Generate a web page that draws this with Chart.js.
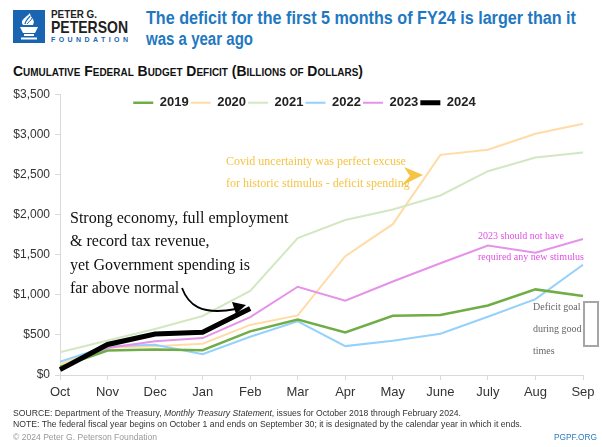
<!DOCTYPE html>
<html>
<head>
<meta charset="utf-8">
<script src="https://cdn.jsdelivr.net/npm/chart.js@4/dist/chart.umd.min.js"></script>
<style>
  html, body { margin: 0; padding: 0; background: #fff; }
  body { width: 602px; height: 447px; position: relative; overflow: hidden; font-family: "Liberation Sans", Arial, sans-serif; }
  .abs { position: absolute; white-space: nowrap; }
  #chartBox { left: 0; top: 82px; width: 602px; height: 322px; }
  .note { font-family: "Liberation Serif", "Times New Roman", serif; }
  #strong { left: 70px; top: 206px; font-size: 16px; line-height: 23.3px; color: #111; }
  #covid { left: 226px; top: 150px; font-size: 12px; line-height: 22px; color: #f6c443; }
  #pink { left: 478px; top: 225px; font-size: 10px; line-height: 21px; color: #e04fe0; }
  #goal { left: 533px; top: 296px; font-size: 10px; line-height: 22px; color: #666; }
</style>
</head>
<body>

<svg class="abs" style="left:0;top:0" width="602" height="90">
  <rect x="13" y="10" width="32" height="33" fill="#1a65b2"/>
  <path d="M20 27 h18 l-3 6 h-12 z" fill="#fff"/>
  <rect x="24" y="34" width="10" height="2" fill="#fff"/>
  <rect x="21" y="37.5" width="16" height="2" fill="#fff"/>
  <path d="M23 25 C19 20 27 17 30 13 C30 18 36 19 33 25 z" fill="#fff"/>
  <path d="M25 24 C25 21 28 19 30 16" stroke="#1a65b2" stroke-width="1.3" fill="none"/>
  <path d="M27 24 C28 22 31 21 32 18" stroke="#1a65b2" stroke-width="1" fill="none"/>
  <text x="51" y="18" textLength="46" lengthAdjust="spacingAndGlyphs" font-family="Liberation Sans, sans-serif" font-weight="bold" font-size="11" fill="#231f20">PETER G.</text>
  <text x="51" y="33" textLength="77" lengthAdjust="spacingAndGlyphs" font-family="Liberation Sans, sans-serif" font-weight="bold" font-size="17" fill="#231f20">PETERSON</text>
  <text x="51" y="42" textLength="77" lengthAdjust="spacing" font-family="Liberation Sans, sans-serif" font-weight="bold" font-size="7" fill="#1a65b2">FOUNDATION</text>
  <text x="146" y="24" textLength="430" lengthAdjust="spacingAndGlyphs" font-family="Liberation Sans, sans-serif" font-weight="bold" font-size="18" fill="#1f78c1">The deficit for the first 5 months of FY24 is larger than it</text>
  <text x="146" y="45" textLength="107" lengthAdjust="spacingAndGlyphs" font-family="Liberation Sans, sans-serif" font-weight="bold" font-size="18" fill="#1f78c1">was a year ago</text>
  <text x="13" y="76" textLength="350" lengthAdjust="spacingAndGlyphs" font-family="Liberation Sans, sans-serif" font-weight="bold" font-size="14" fill="#111" style="font-variant: small-caps">Cumulative Federal Budget Deficit (Billions of Dollars)</text>
</svg>

<div id="chartBox" class="abs"><canvas id="deficitChart"></canvas></div>

<div id="strong" class="abs note">Strong economy, full employment<br>&amp; record tax revenue,<br>yet Government spending is<br>far above normal</div>
<div id="covid" class="abs note">Covid uncertainty was perfect excuse<br>for historic stimulus - deficit spending</div>
<div id="pink" class="abs note">2023 should not have<br>required any new stimulus</div>
<div id="goal" class="abs note">Deficit goal<br>during good<br>times</div>

<svg class="abs" style="left:0;top:0;pointer-events:none" width="602" height="447">
  <path d="M182 288 C188 304 200 316 236 309" stroke="#000" stroke-width="1.8" fill="none"/>
  <polygon points="246,305 232,302 236,314" fill="#000"/>
  <polygon points="423,175 404,167 410,176 401,186" fill="#f6c443"/>
  <rect x="584" y="302" width="14" height="44" fill="none" stroke="#a6a6a6" stroke-width="2"/>
  <g font-family="Liberation Sans, sans-serif" font-size="9">
    <text x="13" y="416" textLength="448" lengthAdjust="spacingAndGlyphs" fill="#333">SOURCE: Department of the Treasury, <tspan font-style="italic">Monthly Treasury Statement</tspan>, issues for October 2018 through February 2024.</text>
    <text x="13" y="427" textLength="509" lengthAdjust="spacingAndGlyphs" fill="#333">NOTE: The federal fiscal year begins on October 1 and ends on September 30; it is designated by the calendar year in which it ends.</text>
    <text x="13" y="440" textLength="144" lengthAdjust="spacingAndGlyphs" fill="#999">© 2024 Peter G. Peterson Foundation</text>
    <text x="554" y="440" textLength="43" lengthAdjust="spacingAndGlyphs" fill="#2b7dc4">PGPF.ORG</text>
  </g>
</svg>

<script>
var months = ["Oct", "Nov", "Dec", "Jan", "Feb", "Mar", "Apr", "May", "June", "July", "Aug", "Sep"];
var fy2019 = [100, 305, 319, 310, 544, 691, 531, 738, 747, 867, 1067, 984];
var fy2020 = [134, 343, 357, 389, 624, 743, 1481, 1880, 2744, 2807, 3007, 3132];
var fy2021 = [284, 429, 573, 736, 1047, 1706, 1932, 2064, 2238, 2540, 2711, 2772];
var fy2022 = [165, 357, 378, 259, 476, 668, 360, 426, 515, 726, 946, 1375];
var fy2023 = [88, 336, 421, 460, 722, 1100, 925, 1165, 1393, 1613, 1524, 1695];
var fy2024 = [67, 381, 510, 532, 828];

// legend drawn as one row inside the plot, a bit left of center like the original
var legendInPlot = {
    id: 'legendInPlot',
    beforeLayout: function(chart){
        chart.legend.isHorizontal = function(){ return true; };
    },
    afterLayout: function(chart){
        var area = chart.chartArea, lg = chart.legend;
        lg.left = area.left - 17;
        lg.right = area.right - 17;
        lg.top = area.top;
        lg.bottom = area.top + lg.height;
    }
};

var deficitData = {
    labels: months,
    datasets: [
        { label: "2019", data: fy2019, borderColor: "#70ad47", borderWidth: 2.5, order: 1 },
        { label: "2020", data: fy2020, borderColor: "#ffdca6", borderWidth: 2, order: 5 },
        { label: "2021", data: fy2021, borderColor: "#d3e8c2", borderWidth: 2, order: 4 },
        { label: "2022", data: fy2022, borderColor: "#94d1fb", borderWidth: 2, order: 3 },
        { label: "2023", data: fy2023, borderColor: "#e592e8", borderWidth: 2, order: 2 },
        { label: "2024", data: fy2024, borderColor: "#000000", borderWidth: 5, order: 0 }
    ]
};
deficitData.datasets.forEach(function(ds){
    ds.backgroundColor = ds.borderColor;
    ds.pointRadius = 0;
    ds.tension = 0;
    ds.fill = false;
});

var ctx = document.getElementById("deficitChart").getContext("2d");
new Chart(ctx, {
    type: 'line',
    data: deficitData,
    plugins: [legendInPlot],
    options: {
        responsive: true,
        maintainAspectRatio: false,
        animation: false,
        layout: { padding: { left: 10, right: 19, top: 10, bottom: 0 } },
        plugins: {
            tooltip: { enabled: false },
            legend: {
                position: 'chartArea',
                align: 'center',
                labels: {
                    usePointStyle: true,
                    pointStyle: 'line',
                    pointStyleWidth: 20,
                    padding: 2,
                    color: '#222',
                    font: { family: 'Liberation Sans', size: 13, weight: 'bold' },
                    sort: function(a, b){ return a.datasetIndex - b.datasetIndex; }
                }
            }
        },
        scales: {
            x: {
                offset: false,
                grid: { drawOnChartArea: false, tickLength: 5, color: '#d9d9d9' },
                border: { color: '#d9d9d9' },
                ticks: { color: '#333', padding: 5, maxRotation: 0, autoSkip: false, font: { family: 'Liberation Sans', size: 13 } },
                afterFit: function(scale){ scale.height = 29; }
            },
            y: {
                min: 0,
                max: 3500,
                grid: { drawOnChartArea: false, tickLength: 5, color: '#d9d9d9' },
                border: { color: '#d9d9d9' },
                ticks: {
                    stepSize: 500,
                    color: '#333',
                    padding: 5,
                    font: { family: 'Liberation Sans', size: 12 },
                    callback: function(v){ return '$' + v.toLocaleString('en-US'); }
                },
                afterFit: function(scale){ scale.width = 50; }
            }
        }
    }
});
</script>
</body>
</html>
